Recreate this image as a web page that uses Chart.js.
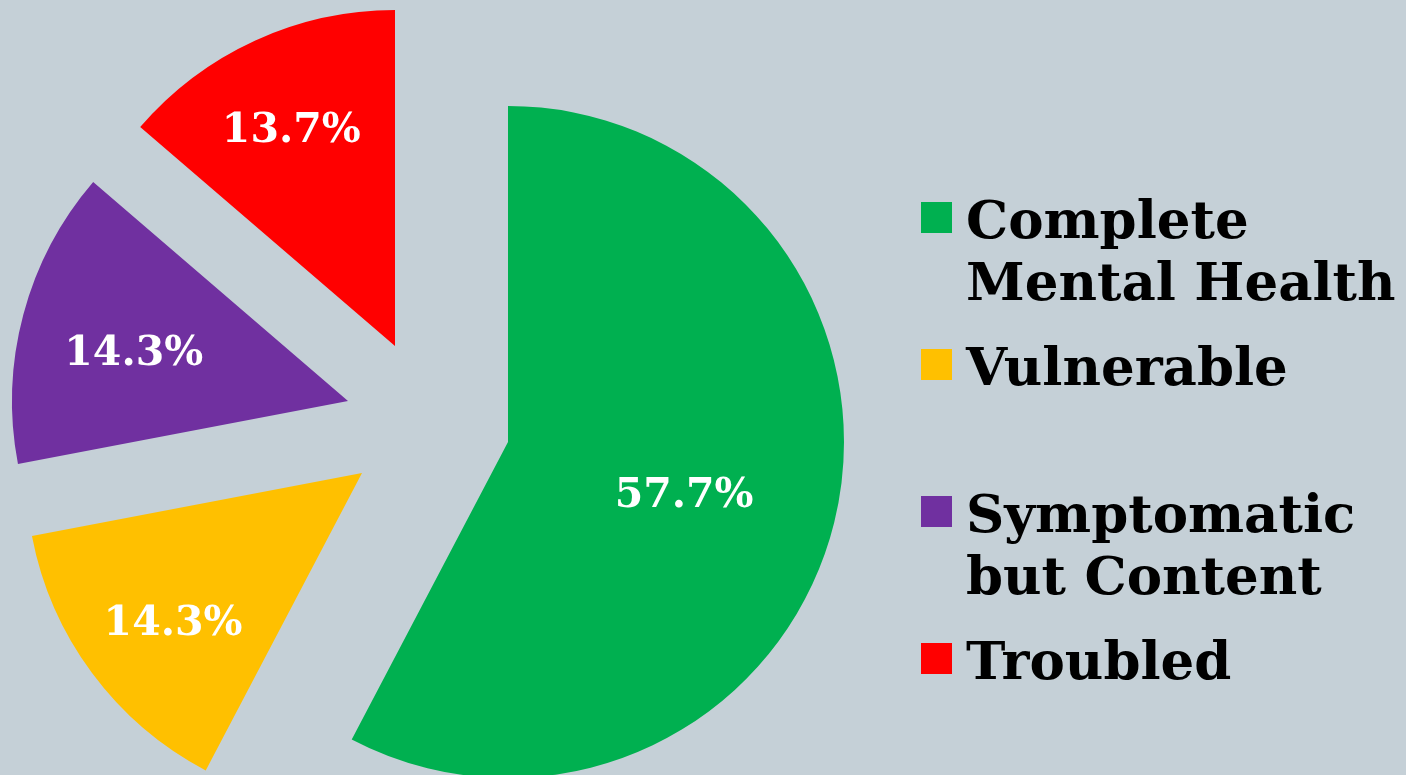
<!DOCTYPE html>
<html>
<head>
<meta charset="utf-8">
<script src="https://cdn.jsdelivr.net/npm/chart.js@4"></script>
<style>
    html, body {
        margin: 0;
        padding: 0;
        background: #C5D0D7;
    }
    #wrap {
        position: relative;
        width: 1406px;
        height: 775px;
        overflow: hidden;
    }
    #legend {
        position: absolute;
        left: 921px;
        top: 188px;
        font-family: "DejaVu Serif", serif;
        font-weight: bold;
        font-size: 53px;
        line-height: 62px;
        color: #000;
    }
    .item {
        display: flex;
        height: 147px;
    }
    .box {
        width: 31px;
        height: 31px;
        margin-top: 14px;
        margin-right: 14px;
        flex: none;
    }
</style>
</head>
<body>
<div id="wrap">
    <canvas id="pieChart"></canvas>
    <div id="legend"></div>
</div>
<script>
const categories = ["Complete Mental Health", "Vulnerable", "Symptomatic but Content", "Troubled"];
const legendLines = [["Complete", "Mental Health"], ["Vulnerable"], ["Symptomatic", "but Content"], ["Troubled"]];
const shares = [57.7, 14.3, 14.3, 13.7];

const colors = ["#00B050", "#FFC000", "#7030A0", "#FF0000"];
// how far each slice is pulled out of the pie, in px
const explodeShift = [[0, 0], [-146, 31], [-160, -41], [-113, -96]];
const labelRadius = [0.54, 0.7, 0.66, 0.74];

const explodePlugin = {
    id: "explode",
    afterDatasetUpdate(chart, args) {
        const area = chart.chartArea;
        const cx = (area.left + area.right) / 2;
        const cy = (area.top + area.bottom) / 2;
        args.meta.data.forEach(function (arc, i) {
            arc.x = cx + explodeShift[i][0];
            arc.y = cy + explodeShift[i][1];
        });
    }
};

const sliceLabels = {
    id: "sliceLabels",
    afterDatasetsDraw(chart) {
        const ctx = chart.ctx;
        const meta = chart.getDatasetMeta(0);
        ctx.save();
        ctx.fillStyle = "#FFFFFF";
        ctx.font = "bold 41px 'DejaVu Serif', serif";
        ctx.textAlign = "center";
        ctx.textBaseline = "middle";
        meta.data.forEach(function (arc, i) {
            const mid = (arc.startAngle + arc.endAngle) / 2;
            const r = arc.outerRadius * labelRadius[i];
            ctx.fillText(shares[i].toFixed(1) + "%", arc.x + Math.cos(mid) * r, arc.y + Math.sin(mid) * r + 11);
        });
        ctx.restore();
    }
};

const legend = document.getElementById("legend");
legendLines.forEach(function (lines, i) {
    const item = document.createElement("div");
    item.className = "item";
    const box = document.createElement("div");
    box.className = "box";
    box.style.background = colors[i];
    const text = document.createElement("div");
    text.innerHTML = lines.join("<br>");
    item.appendChild(box);
    item.appendChild(text);
    legend.appendChild(item);
});

const canvas = document.getElementById("pieChart");
canvas.style.width = "1406px";
canvas.style.height = "775px";

new Chart(canvas.getContext("2d"), {
    type: "pie",
    data: {
        labels: categories,
        datasets: [{
            data: shares,
            backgroundColor: colors,
            borderWidth: 0
        }]
    },
    options: {
        responsive: true,
        maintainAspectRatio: false,
        animation: false,
        events: [],
        radius: 336,
        layout: {
            padding: { left: 0, right: 390, top: 109, bottom: 0 }
        },
        plugins: {
            legend: { display: false },
            tooltip: { enabled: false }
        }
    },
    plugins: [explodePlugin, sliceLabels]
});
</script>
</body>
</html>
